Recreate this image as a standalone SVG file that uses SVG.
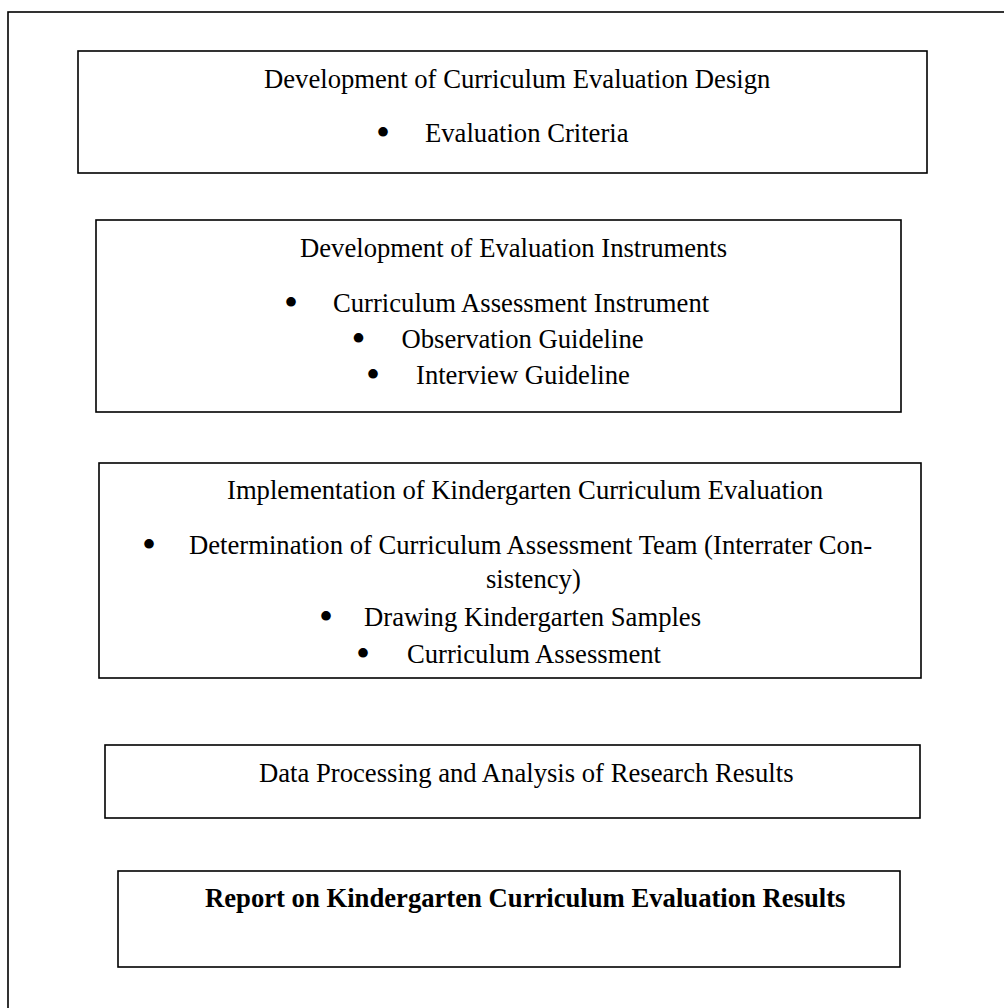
<svg xmlns="http://www.w3.org/2000/svg" width="1004" height="1008" viewBox="0 0 1004 1008">
<style>
rect.box{fill:#ffffff;stroke:#000000;stroke-width:1.6}
rect.frame{fill:#ffffff;stroke:#000000;stroke-width:1.6}
text{font-family:"Liberation Serif","Times New Roman",serif;font-size:26.67px;fill:#000000}
text.b{font-weight:bold}
text.dot{text-anchor:middle;font-size:40px}
</style>
<rect class="frame" x="8" y="12" width="1000" height="1000"/>
<g id="node1">
<rect class="box" x="78" y="51" width="849" height="122"/>
<text x="264" y="88">Development of Curriculum Evaluation Design</text>
<text class="dot" x="383" y="146">•</text>
<text x="425" y="142">Evaluation Criteria</text>
</g>
<g id="node2">
<rect class="box" x="96" y="220" width="805" height="192"/>
<text x="300" y="257">Development of Evaluation Instruments</text>
<text class="dot" x="291" y="316">•</text>
<text x="333" y="312">Curriculum Assessment Instrument</text>
<text class="dot" x="358.5" y="352">•</text>
<text x="401.5" y="348">Observation Guideline</text>
<text class="dot" x="373" y="388">•</text>
<text x="416" y="384">Interview Guideline</text>
</g>
<g id="node3">
<rect class="box" x="99" y="463" width="822" height="215"/>
<text x="227" y="499">Implementation of Kindergarten Curriculum Evaluation</text>
<text class="dot" x="149" y="558">•</text>
<text x="189" y="554">Determination of Curriculum Assessment Team (Interrater Con-</text>
<text x="486" y="588">sistency)</text>
<text class="dot" x="326" y="630">•</text>
<text x="364" y="626">Drawing Kindergarten Samples</text>
<text class="dot" x="363" y="667">•</text>
<text x="407" y="663">Curriculum Assessment</text>
</g>
<g id="node4">
<rect class="box" x="105" y="745" width="815" height="73"/>
<text x="259" y="782">Data Processing and Analysis of Research Results</text>
</g>
<g id="node5">
<rect class="box" x="118" y="871" width="782" height="96"/>
<text class="b" x="205" y="907">Report on Kindergarten Curriculum Evaluation Results</text>
</g>
<g id="connectors"/>
</svg>
